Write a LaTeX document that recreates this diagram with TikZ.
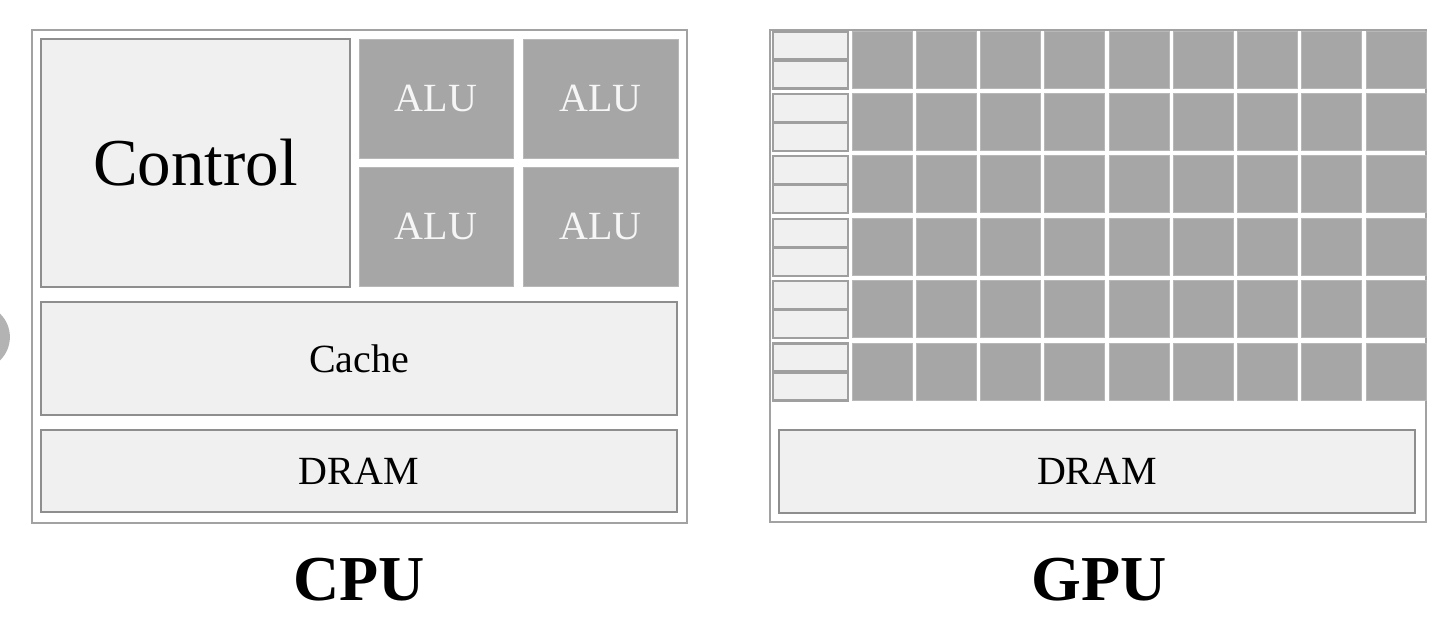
\documentclass[tikz,border=0pt]{standalone}
\usepackage{fontspec}
\setmainfont{Liberation Serif}
\definecolor{boxfill}{HTML}{F0F0F0}
\definecolor{framegray}{HTML}{A2A2A2}
\definecolor{edgegray}{HTML}{8E8E8E}
\definecolor{alugray}{HTML}{A6A6A6}
\definecolor{alutext}{HTML}{F6F6F6}
\definecolor{blobgray}{HTML}{B3B3B3}
\begin{document}
\begin{tikzpicture}[x=1pt,y=-1pt,
  frame/.style={draw=framegray, line width=2pt, fill=white, inner sep=0pt, outer sep=0pt},
  lightbox/.style={draw=edgegray, line width=2.5pt, fill=boxfill, inner sep=0pt, outer sep=0pt},
  smallbox/.style={draw=edgegray!85!white, line width=2.2pt, fill=boxfill, inner sep=0pt, outer sep=0pt,
    minimum width=75pt, minimum height=28pt},
  alubox/.style={fill=alugray, draw=alugray!80!white, line width=0.8pt, inner sep=0pt, outer sep=0pt, text=alutext},
  midtext/.style={font=\fontsize{40}{44}\selectfont},
  bigtext/.style={font=\fontsize{67}{70}\selectfont},
  labeltext/.style={font=\fontsize{64}{68}\selectfont\bfseries, inner sep=0pt}]
\useasboundingbox (0,0) rectangle (1432,622);
\fill[white] (0,0) rectangle (1432,622);
% partial grey disc at the left edge
\node[circle, fill=blobgray, minimum size=65pt, inner sep=0pt] (blob) at (-22.6,337) {};
% ---------- CPU ----------
\node[frame, minimum width=655pt, minimum height=493pt] (cpu) at (359.5,276.5) {};
\node[lightbox, bigtext, minimum width=309pt, minimum height=248pt] (control) at (195.5,163) {Control};
\node[alubox, midtext, minimum width=154pt, minimum height=119pt] (alu11) at (436,98.5) {ALU};
\node[alubox, midtext, minimum width=155pt, minimum height=119pt] (alu12) at (600.5,98.5) {ALU};
\node[alubox, midtext, minimum width=154pt, minimum height=119pt] (alu21) at (436,226.5) {ALU};
\node[alubox, midtext, minimum width=155pt, minimum height=119pt] (alu22) at (600.5,226.5) {ALU};
\node[lightbox, midtext, minimum width=636pt, minimum height=113pt] (cache) at (359,358.5) {Cache};
\node[lightbox, midtext, minimum width=636pt, minimum height=82pt] (cpudram) at (359,471) {DRAM};
\node[labeltext] (cpulabel) at (359,580) {CPU};
% ---------- GPU ----------
\node[frame, minimum width=656pt, minimum height=492pt] (gpu) at (1098,276) {};
\foreach \r in {0,...,5}{
  \pgfmathsetmacro{\T}{31+62.4*\r}
  \node[smallbox] (ctla\r) at (810.5,\T+14.5) {};
  \node[smallbox] (ctlb\r) at (810.5,\T+43.5) {};
  \foreach \c in {0,...,8}{
    \pgfmathsetmacro{\L}{852+64.25*\c}
    \node[alubox, minimum width=60pt, minimum height=57pt] (galu\r\c) at (\L+30,\T+28.5) {};
  }
}
\node[lightbox, midtext, minimum width=636pt, minimum height=83pt] (gpudram) at (1097,471.5) {DRAM};
\node[labeltext] (gpulabel) at (1099,580) {GPU};
\end{tikzpicture}
\end{document}
